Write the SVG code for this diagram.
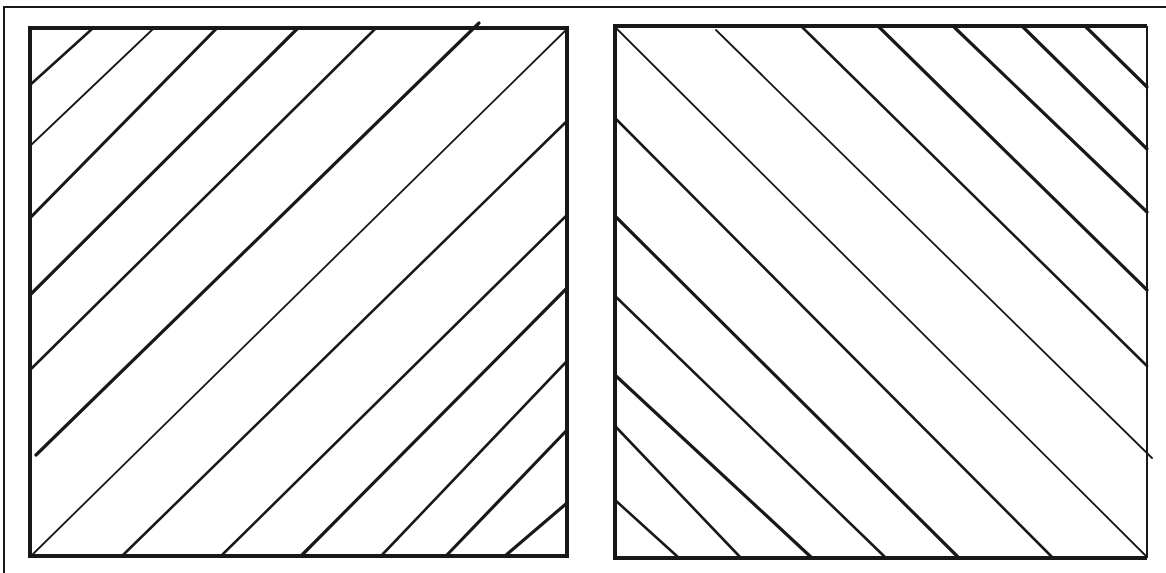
<svg xmlns="http://www.w3.org/2000/svg" width="1166" height="573" viewBox="0 0 1166 573">
<style>
.frame{fill:none;stroke:#1a1714;stroke-width:2}
.box{fill:none;stroke:#1a1714;stroke-width:4}
.h{stroke:#1a1714;stroke-width:2.6;stroke-linecap:round;fill:none}
.t{stroke-width:1.8}
.k{stroke-width:3.2}
</style>
<rect width="1166" height="573" fill="#fff"/>
<g id="frame">
<path class="frame" d="M4 573 V7 H1166"/>
</g>
<g id="left-box">
<g id="left-hatch">
<line class="h" x1="30" y1="85" x2="92" y2="29"/>
<line class="h t" x1="30" y1="146" x2="153" y2="29"/>
<line class="h k" x1="30" y1="218" x2="216" y2="29"/>
<line class="h k" x1="30" y1="295" x2="297" y2="29"/>
<line class="h" x1="30" y1="370" x2="375" y2="29"/>
<line class="h k" x1="36" y1="455" x2="479" y2="23"/>
<line class="h t" x1="32" y1="555" x2="565" y2="31"/>
<line class="h" x1="122" y1="556" x2="567" y2="121"/>
<line class="h" x1="221" y1="556" x2="567" y2="215"/>
<line class="h k" x1="301" y1="556" x2="567" y2="288"/>
<line class="h" x1="381" y1="556" x2="567" y2="361"/>
<line class="h k" x1="446" y1="556" x2="567" y2="430"/>
<line class="h k" x1="505" y1="556" x2="567" y2="503"/>
</g>
<rect class="box" x="30" y="28" width="537" height="528"/>
</g>
<g id="right-box">
<g id="right-hatch">
<line class="h t" x1="617" y1="29" x2="1146" y2="556"/>
<line class="h k" x1="1086" y1="27" x2="1147" y2="87"/>
<line class="h k" x1="1023" y1="27" x2="1147" y2="149"/>
<line class="h k" x1="954" y1="27" x2="1147" y2="212"/>
<line class="h k" x1="879" y1="27" x2="1147" y2="290"/>
<line class="h" x1="802" y1="27" x2="1147" y2="366"/>
<line class="h t" x1="716" y1="30" x2="1152" y2="458"/>
<line class="h" x1="615" y1="118" x2="1053" y2="558"/>
<line class="h k" x1="615" y1="216" x2="959" y2="558"/>
<line class="h" x1="615" y1="296" x2="886" y2="558"/>
<line class="h k" x1="615" y1="375" x2="812" y2="558"/>
<line class="h" x1="615" y1="426" x2="741" y2="558"/>
<line class="h" x1="615" y1="500" x2="679" y2="558"/>
</g>
<path class="box" d="M1147 26 H615 V558 H1147"/>
<path class="frame" d="M1147 26 V558"/>
</g>
</svg>
